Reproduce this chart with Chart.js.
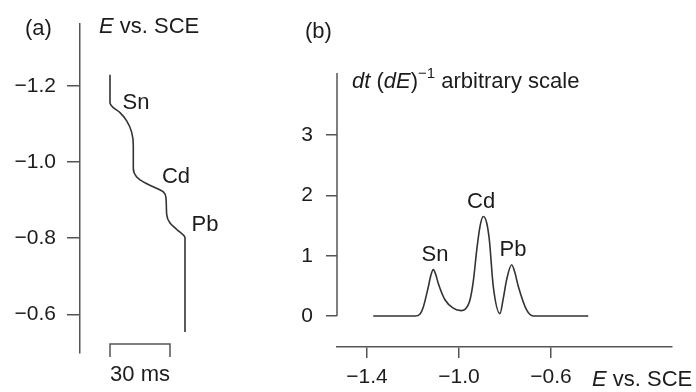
<!DOCTYPE html>
<html>
<head>
<meta charset="utf-8">
<script src="https://cdn.jsdelivr.net/npm/chart.js@4/dist/chart.umd.min.js"></script>
<style>
  html, body { margin: 0; padding: 0; background: #fff; }
  #wrap { position: relative; width: 696px; height: 392px; }
  #chartA { position: absolute; left: 0; top: 0; }
  #chartB { position: absolute; left: 290px; top: 0; }
</style>
</head>
<body>
<div id="wrap">
  <canvas id="chartA" width="290" height="392"></canvas>
  <canvas id="chartB" width="406" height="392"></canvas>
</div>
<script>
// (a) potential vs time
const timeMs = [0, 0, 1.65, 5, 8.35, 10.85, 11.65, 11.65, 13.35, 16.65, 21.65, 26.65, 28, 28.35, 30, 33.35, 37.5, 37.5];
const potentialA = [-1.229, -1.156, -1.143, -1.130, -1.108, -1.078, -1.043, -0.983, -0.961, -0.948, -0.935, -0.922, -0.905, -0.862, -0.840, -0.823, -0.801, -0.554];
const ticksA = [-1.2, -1.0, -0.8, -0.6];
const scaleBarMs = 30;

// (b) dt/dE vs potential
const potentialB = [-1.373, -1.191, -1.17, -1.155, -1.133, -1.122, -1.112, -1.102, -1.090, -1.061, -1.025, -0.99, -0.974, -0.952, -0.937, -0.923, -0.908, -0.894, -0.880, -0.868, -0.851, -0.822, -0.808, -0.793, -0.771, -0.757, -0.742, -0.706, -0.677, -0.438];
const derivB = [0, 0, 0.03, 0.15, 0.49, 0.68, 0.77, 0.70, 0.54, 0.27, 0.13, 0.09, 0.11, 0.27, 0.6, 1.09, 1.5, 1.65, 1.55, 1.26, 0.49, 0.04, 0.28, 0.60, 0.85, 0.72, 0.49, 0.10, 0, 0];
const ticksBx = [-1.4, -1.0, -0.6];
const ticksBy = [0, 1, 2, 3];

// peak labels
const metals = ['Sn', 'Cd', 'Pb'];
const labelPosA = [[13, -1.156], [33, -0.961], [47.5, -0.836]];
const labelPosB = [[-1.104, 1.01], [-0.904, 1.89], [-0.765, 1.09]];

const FONT = "'Liberation Sans', Arial, sans-serif";
const INK = '#1c1c1c';
const AXIS = '#555';
const TXT = 22;

function fmt(v) {
  if (v < 0) return '\u2212' + Math.abs(v).toFixed(1);
  return String(v);
}

function axisOpts(tickLen, pad, list, fmtFn) {
  return {
    type: 'linear',
    grid: { drawOnChartArea: false, drawTicks: true, tickLength: tickLen, color: AXIS, lineWidth: 1.5 },
    border: { display: true, color: AXIS, width: 1.5 },
    afterBuildTicks: s => { s.ticks = list.map(v => ({ value: v })); },
    ticks: { padding: pad, color: INK, font: { family: FONT, size: 21 }, callback: fmtFn, autoSkip: false, maxRotation: 0 }
  };
}

const textA = {
  id: 'textA',
  afterDraw(chart) {
    const ctx = chart.ctx, xs = chart.scales.x, ys = chart.scales.y;
    ctx.save();
    ctx.fillStyle = INK;
    ctx.textBaseline = 'middle';
    ctx.font = TXT + 'px ' + FONT;
    ctx.textAlign = 'left';
    ctx.fillText('(a)', 25, 29);
    ctx.font = 'italic ' + TXT + 'px ' + FONT;
    ctx.fillText('E', 99, 27);
    let w = ctx.measureText('E').width;
    ctx.font = TXT + 'px ' + FONT;
    ctx.fillText(' vs. SCE', 99 + w, 27);
    ctx.textAlign = 'center';
    metals.forEach((m, i) => {
      ctx.fillText(m, xs.getPixelForValue(labelPosA[i][0]), ys.getPixelForValue(labelPosA[i][1]));
    });
    // 30 ms scale bar
    const x0 = xs.getPixelForValue(0), x1 = xs.getPixelForValue(scaleBarMs);
    ctx.strokeStyle = AXIS;
    ctx.lineWidth = 1.5;
    ctx.beginPath();
    ctx.moveTo(x0, 357); ctx.lineTo(x0, 344); ctx.lineTo(x1, 344); ctx.lineTo(x1, 357);
    ctx.stroke();
    ctx.fillText(scaleBarMs + ' ms', (x0 + x1) / 2, 375);
    ctx.restore();
  }
};

new Chart(document.getElementById('chartA'), {
  type: 'line',
  data: {
    datasets: [{
      data: timeMs.map((t, i) => ({ x: t, y: potentialA[i] })),
      indexAxis: 'y',
      borderColor: '#333',
      borderWidth: 1.6,
      pointRadius: 0,
      cubicInterpolationMode: 'monotone',
      fill: false
    }]
  },
  options: {
    responsive: false,
    animation: false,
    indexAxis: 'y',
    layout: { padding: { top: 20, bottom: 39, left: 0, right: 0 } },
    plugins: { legend: { display: false }, tooltip: { enabled: false } },
    scales: {
      x: { type: 'linear', display: false, min: -15, max: 90 },
      y: Object.assign(axisOpts(13, 11, ticksA, v => fmt(v)), {
        reverse: true, min: -1.3636, max: -0.4987,
        afterFit: s => { s.width = 80; }
      })
    }
  },
  plugins: [textA]
});

const textB = {
  id: 'textB',
  afterDraw(chart) {
    const ctx = chart.ctx, xs = chart.scales.x, ys = chart.scales.y, area = chart.chartArea;
    ctx.save();
    // y axis line only from 0 upwards
    ctx.strokeStyle = AXIS;
    ctx.lineWidth = 1.5;
    ctx.beginPath();
    ctx.moveTo(area.left, ys.getPixelForValue(0));
    ctx.lineTo(area.left, area.top);
    ctx.stroke();

    ctx.fillStyle = INK;
    ctx.textBaseline = 'middle';
    ctx.textAlign = 'left';
    ctx.font = TXT + 'px ' + FONT;
    ctx.fillText('(b)', 15, 32);

    // title: dt (dE)^-1 arbitrary scale
    const parts = [
      ['dt', 'italic ' + TXT + 'px ', 0],
      [' (', TXT + 'px ', 0],
      ['dE', 'italic ' + TXT + 'px ', 0],
      [')', TXT + 'px ', 0],
      ['\u22121', '15px ', -8],
      [' arbitrary scale', TXT + 'px ', 0]
    ];
    let x = 62;
    parts.forEach(p => {
      ctx.font = p[1] + FONT;
      ctx.fillText(p[0], x, 82 + p[2]);
      x += ctx.measureText(p[0]).width;
    });

    ctx.font = 'italic ' + TXT + 'px ' + FONT;
    ctx.fillText('E', 302, 380);
    const w = ctx.measureText('E').width;
    ctx.font = TXT + 'px ' + FONT;
    ctx.fillText(' vs. SCE', 302 + w, 380);

    ctx.textAlign = 'center';
    metals.forEach((m, i) => {
      ctx.fillText(m, xs.getPixelForValue(labelPosB[i][0]), ys.getPixelForValue(labelPosB[i][1]));
    });
    ctx.restore();
  }
};

new Chart(document.getElementById('chartB'), {
  type: 'line',
  data: {
    datasets: [{
      data: potentialB.map((e, i) => ({ x: e, y: derivB[i] })),
      borderColor: '#333',
      borderWidth: 1.6,
      pointRadius: 0,
      cubicInterpolationMode: 'monotone',
      fill: false
    }]
  },
  options: {
    responsive: false,
    animation: false,
    layout: { padding: { top: 73, bottom: 0, left: 0, right: 24 } },
    plugins: { legend: { display: false }, tooltip: { enabled: false } },
    scales: {
      x: Object.assign(axisOpts(11, 7, ticksBx, v => fmt(v)), {
        min: -1.5304, max: -0.0739,
        afterFit: s => { s.height = 45; }
      }),
      y: Object.assign(axisOpts(11, 13, ticksBy, v => fmt(v)), {
        min: -0.514, max: 4.03,
        border: { display: false },
        afterFit: s => { s.width = 47; }
      })
    }
  },
  plugins: [textB]
});
</script>
</body>
</html>
